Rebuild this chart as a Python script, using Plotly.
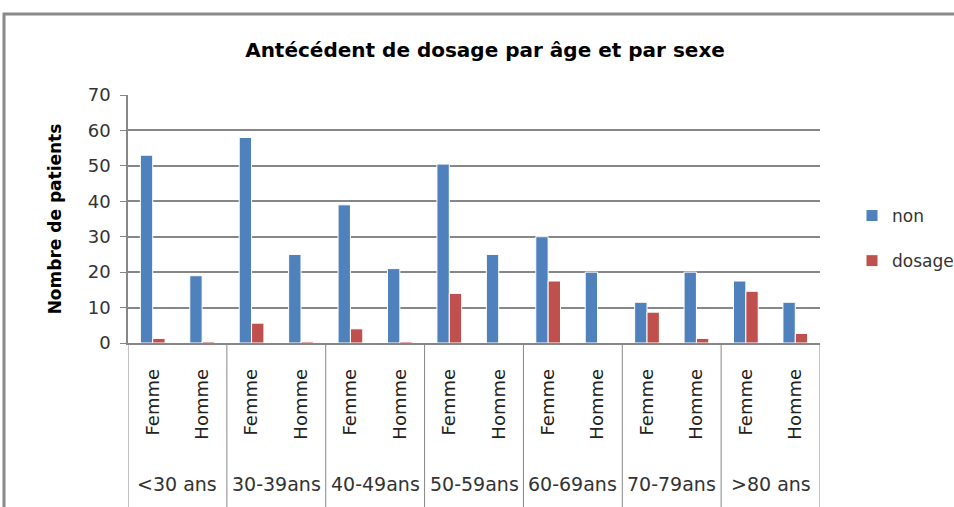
import plotly.graph_objects as go

age_groups = ["<30 ans", "30-39ans", "40-49ans", "50-59ans", "60-69ans", "70-79ans", ">80 ans"]
sexes = ["Femme", "Homme"]
non = [53, 19, 58, 25, 39, 21, 50.5, 25, 30, 20, 11.5, 20, 17.5, 11.5]
dosage = [1.3, 0.4, 5.6, 0.4, 4, 0.4, 14, 0, 17.5, 0, 8.7, 1.3, 14.6, 2.7]
y_ticks = [0, 10, 20, 30, 40, 50, 60, 70]

x_cats = [f"{a}|{s}" for a in age_groups for s in sexes]
sex_labels = [s for a in age_groups for s in sexes]

BLUE = "#4F81BD"
RED = "#C0504D"
GRID = "#878787"
TXT = "#333333"
FONT = "DejaVu Sans"

fig = go.Figure()
fig.add_trace(go.Bar(x=x_cats, y=non, name="non", marker=dict(color=BLUE, line=dict(color="white", width=1)),
                     legendgroup="a"))
fig.add_trace(go.Bar(x=x_cats, y=dosage, name="dosage", marker=dict(color=RED, line=dict(color="white", width=1)),
                     legendgroup="b"))

W, H = 954, 507
L, R, T, B = 128, 820, 95, 343  # plot area in pixels
pw, ph = R - L, B - T


def py(y):
    return (B - y) / ph


def px(x):
    return (x - L) / pw


shapes = []
for i in range(len(age_groups) + 1):
    shapes.append(dict(type="line", xref="x", yref="paper", x0=2 * i - 0.5, x1=2 * i - 0.5,
                       y0=0, y1=py(520), line=dict(color=GRID, width=1)))
shapes.append(dict(type="rect", xref="paper", yref="paper", x0=px(4), x1=px(970),
                   y0=py(530), y1=py(14), line=dict(color="#8a8a8a", width=3), layer="below"))

annotations = []
for i, a in enumerate(age_groups):
    annotations.append(dict(x=2 * i + 0.5, xref="x", y=py(484), yref="paper", text=a, showarrow=False,
                            font=dict(family=FONT, size=19, color=TXT), xanchor="center", yanchor="middle"))

fig.update_layout(
    width=W, height=H,
    margin=dict(l=L, r=W - R, t=T, b=H - B, pad=0, autoexpand=False),
    paper_bgcolor="white", plot_bgcolor="white",
    barmode="group", bargap=0.5, bargroupgap=0.0,
    title=dict(text="Antécédent de dosage par âge et par sexe", x=485 / W, xanchor="center",
               y=1 - 50 / H, yanchor="middle", yref="container",
               font=dict(family=FONT, size=20, color="black", weight="bold")),
    legend=dict(xref="container", yref="container", x=852 / W, y=1 - 198 / H,
                xanchor="left", yanchor="top", tracegroupgap=20,
                traceorder="grouped", font=dict(family=FONT, size=17, color=TXT),
                itemwidth=30, bgcolor="rgba(0,0,0,0)"),
    shapes=shapes, annotations=annotations,
    font=dict(family=FONT, color=TXT),
)
fig.update_xaxes(type="category", tickvals=x_cats, ticktext=sex_labels, tickangle=-90,
                 tickfont=dict(family=FONT, size=18, color="#222"), ticklabelstandoff=17,
                 showline=True, linecolor=GRID, linewidth=1.5, showgrid=False, ticks="",
                 range=[-0.5, len(x_cats) - 0.5])
fig.update_yaxes(range=[0, 70], tickvals=y_ticks, showgrid=True, gridcolor=GRID, gridwidth=1.5,
                 showline=True, linecolor=GRID, linewidth=1.5, ticks="outside", ticklen=6, tickcolor=GRID,
                 tickfont=dict(family=FONT, size=18, color=TXT), zeroline=False, ticklabelstandoff=6,
                 title=dict(text="Nombre de patients", standoff=22,
                            font=dict(family=FONT, size=17, color="black", weight="bold")))

fig.write_html("out.html", config={"displayModeBar": False},
               post_script="document.body.style.margin='0';document.body.style.overflow='hidden';")
